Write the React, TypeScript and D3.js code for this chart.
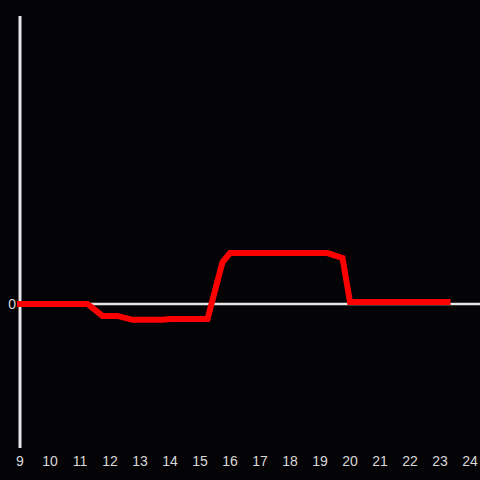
import React from "react";
import * as d3 from "d3";

const hours = [9, 11.25, 11.75, 12.25, 12.75, 13.75, 14.0, 15.25, 15.75, 16.0, 19.25, 19.75, 20.0, 23.25];
const values = [0, 0, -0.083, -0.083, -0.11, -0.11, -0.104, -0.104, 0.29, 0.354, 0.354, 0.32, 0.014, 0.014];
const xTicks = [9, 10, 11, 12, 13, 14, 15, 16, 17, 18, 19, 20, 21, 22, 23, 24];
const yTicks = [0];

export default function App() {
  const W = 480, H = 480;
  const x = d3.scaleLinear().domain([9, 24]).range([20, 470]);
  const y = d3.scaleLinear().domain([-1, 2]).range([448, 16]);
  const pts: [number, number][] = hours.map((h, i) => [h, values[i]]);
  const line = d3.line<[number, number]>().x(d => x(d[0])).y(d => y(d[1]));
  const font = "'Liberation Sans', Arial, sans-serif";
  return (
    <svg width={W} height={H} style={{ position: "fixed", left: 0, top: 0, display: "block", background: "#040306" }}>
      <rect x={0} y={0} width={W} height={H} fill="#040306" />
      <line x1={x(9)} x2={W} y1={y(0)} y2={y(0)} stroke="#e6e6e6" strokeWidth={2.7} />
      <line x1={x(9)} x2={x(9)} y1={16} y2={448} stroke="#e6e6e6" strokeWidth={3} />
      <path d={line(pts) || ""} fill="none" stroke="#ff0000" strokeWidth={6} strokeLinecap="square" strokeLinejoin="miter" />
      {xTicks.map(t => (
        <text key={t} x={x(t)} y={466} textAnchor="middle" fill="#d8d8d8" fontSize={14} fontFamily={font}>{t}</text>
      ))}
      {yTicks.map(t => (
        <text key={t} x={16} y={y(t) + 5} textAnchor="end" fill="#d8d8d8" fontSize={14} fontFamily={font}>{t}</text>
      ))}
    </svg>
  );
}
